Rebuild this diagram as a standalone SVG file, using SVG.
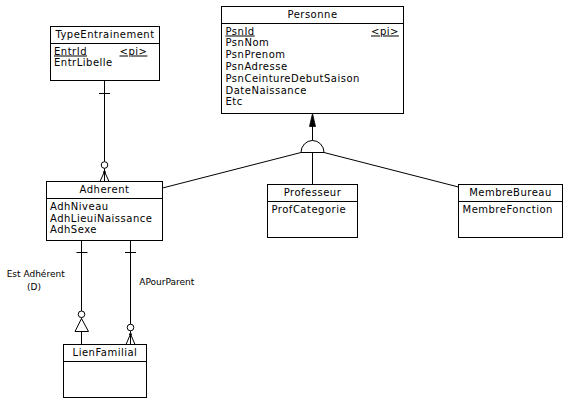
<svg xmlns="http://www.w3.org/2000/svg" width="571" height="405" viewBox="0 0 571 405">
<style>
.box{fill:#fff;stroke:#000;stroke-width:1}
.ln{fill:none;stroke:#000;stroke-width:1}
.t{font-family:"DejaVu Sans",Verdana,sans-serif;font-size:10px;letter-spacing:0.5px;fill:#000}
.c{text-anchor:middle}
.u{text-decoration:underline}
.lbl{font-family:"DejaVu Sans",Verdana,sans-serif;font-size:9px;fill:#000}
</style>
<rect width="571" height="405" fill="#fff"/>
<g id="connectors">
  <!-- TypeEntrainement - Adherent -->
  <line class="ln" x1="104.5" y1="80.5" x2="104.5" y2="161.7"/>
  <line class="ln" x1="99" y1="93.5" x2="110" y2="93.5"/>
  <circle class="ln" cx="104.5" cy="165" r="3.3" fill="#fff"/>
  <line class="ln" x1="104.5" y1="168.3" x2="104.5" y2="181.5"/>
  <path class="ln" d="M100,181.5 L104.5,171.5 L109,181.5"/>
  <circle cx="104.5" cy="172" r="1.3" fill="#000"/>
  <!-- Inheritance -->
  <line class="ln" x1="312.5" y1="126" x2="312.5" y2="140.5"/>
  <polygon points="312.5,113.5 309.5,126.5 315.5,126.5" fill="#000" stroke="#000" stroke-width="0.8"/>
  <line class="ln" x1="301" y1="152.5" x2="162.5" y2="188"/>
  <line class="ln" x1="324" y1="152.5" x2="458.5" y2="187"/>
  <line class="ln" x1="312.5" y1="152.5" x2="312.5" y2="184.5"/>
  <path class="ln" d="M301,152.5 A11.5,12 0 0 1 324,152.5 Z" fill="#fff"/>
  <!-- Adherent - LienFamilial (Est Adhérent) -->
  <line class="ln" x1="81.5" y1="240.5" x2="81.5" y2="311"/>
  <line class="ln" x1="76.5" y1="252.5" x2="87.5" y2="252.5"/>
  <circle class="ln" cx="81.5" cy="314.3" r="3.3" fill="#fff"/>
  <line class="ln" x1="81.5" y1="317.6" x2="81.5" y2="319"/>
  <polygon class="ln" points="81.5,318.5 75,331.5 88.5,331.5" fill="#fff"/>
  <line class="ln" x1="81.5" y1="331.5" x2="81.5" y2="344.5"/>
  <!-- Adherent - LienFamilial (APourParent) -->
  <line class="ln" x1="130.5" y1="240.5" x2="130.5" y2="324.2"/>
  <line class="ln" x1="125" y1="252.5" x2="136" y2="252.5"/>
  <circle class="ln" cx="130.5" cy="327.5" r="3.3" fill="#fff"/>
  <line class="ln" x1="130.5" y1="330.8" x2="130.5" y2="344.5"/>
  <path class="ln" d="M126,344.5 L130.5,334 L135,344.5"/>
  <circle cx="130.5" cy="334.3" r="1.3" fill="#000"/>
  <text class="lbl" x="6.7" y="276.5">Est Adhérent</text>
  <text class="lbl" x="34" y="289.5" text-anchor="middle">(D)</text>
  <text class="lbl" x="139.3" y="285">APourParent</text>
</g>
<g id="TypeEntrainement">
  <rect class="box" x="50.5" y="26.5" width="109" height="54"/>
  <line class="ln" x1="50.5" y1="43.5" x2="159.5" y2="43.5"/>
  <text class="t c" x="105" y="38">TypeEntrainement</text>
  <text class="t u" x="54" y="54.5">EntrId</text>
  <text class="t u" x="119.5" y="54.5">&lt;pi&gt;</text>
  <text class="t" x="54" y="66">EntrLibelle</text>
</g>
<g id="Personne">
  <rect class="box" x="221.5" y="6.5" width="182" height="107"/>
  <line class="ln" x1="221.5" y1="23.5" x2="403.5" y2="23.5"/>
  <text class="t c" x="312.5" y="18">Personne</text>
  <text class="t u" x="225.5" y="34.5">PsnId</text>
  <text class="t u" x="371" y="34.5">&lt;pi&gt;</text>
  <text class="t" x="225.5" y="46.3">PsnNom</text>
  <text class="t" x="225.5" y="58.1">PsnPrenom</text>
  <text class="t" x="225.5" y="69.9">PsnAdresse</text>
  <text class="t" x="225.5" y="81.7">PsnCeintureDebutSaison</text>
  <text class="t" x="225.5" y="93.5">DateNaissance</text>
  <text class="t" x="225.5" y="105.3">Etc</text>
</g>
<g id="Adherent">
  <rect class="box" x="46.5" y="181.5" width="116" height="59"/>
  <line class="ln" x1="46.5" y1="198.5" x2="162.5" y2="198.5"/>
  <text class="t c" x="104.5" y="193">Adherent</text>
  <text class="t" x="50" y="210">AdhNiveau</text>
  <text class="t" x="50" y="221.7">AdhLieuiNaissance</text>
  <text class="t" x="50" y="233.4">AdhSexe</text>
</g>
<g id="Professeur">
  <rect class="box" x="267.5" y="184.5" width="90" height="53"/>
  <line class="ln" x1="267.5" y1="201.5" x2="357.5" y2="201.5"/>
  <text class="t c" x="312.5" y="195.5">Professeur</text>
  <text class="t" x="271.5" y="212.5">ProfCategorie</text>
</g>
<g id="MembreBureau">
  <rect class="box" x="458.5" y="184.5" width="104" height="53"/>
  <line class="ln" x1="458.5" y1="201.5" x2="562.5" y2="201.5"/>
  <text class="t c" x="510.5" y="195.5">MembreBureau</text>
  <text class="t" x="462.5" y="212.5">MembreFonction</text>
</g>
<g id="LienFamilial">
  <rect class="box" x="63.5" y="344.5" width="83" height="53"/>
  <line class="ln" x1="63.5" y1="361.5" x2="146.5" y2="361.5"/>
  <text class="t c" x="105" y="356">LienFamilial</text>
</g>
</svg>
